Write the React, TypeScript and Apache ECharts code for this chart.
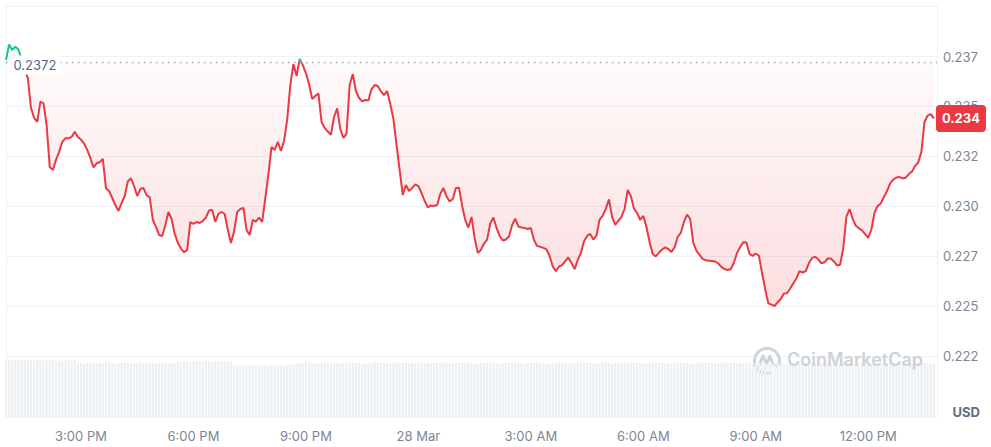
import React, { useEffect, useRef } from 'react';
import * as echarts from 'echarts';

// ---- Data ----
const DAY_ONE = '27 Mar';
const DAY_TWO = '28 Mar';
const START_HOUR = 13;
const STEP_MINUTES = 5;
const SLOT_COUNT = 299;

const TICK_LABELS = ['3:00 PM', '6:00 PM', '9:00 PM', '28 Mar', '3:00 AM', '6:00 AM', '9:00 AM', '12:00 PM'];
const TICK_FIRST_INDEX = 24;
const TICK_EVERY = 36;

const OPEN_PRICE = 0.2372;

const PRICE = [
  0.23733, 0.23810, 0.23783, 0.23799, 0.23785, 0.23733, 0.23682, 0.23642, 0.23492, 0.23442,
  0.23422, 0.23524, 0.23515, 0.23407, 0.23196, 0.23181, 0.23232, 0.23272, 0.23322, 0.23340,
  0.23340, 0.23347, 0.23373, 0.23347, 0.23334, 0.23314, 0.23282, 0.23242, 0.23194, 0.23215,
  0.23220, 0.23237, 0.23089, 0.23076, 0.23041, 0.23006, 0.22976, 0.23015, 0.23051, 0.23124,
  0.23140, 0.23101, 0.23051, 0.23086, 0.23091, 0.23054, 0.23046, 0.22931, 0.22896, 0.22856,
  0.22851, 0.22906, 0.22971, 0.22936, 0.22861, 0.22817, 0.22788, 0.22769, 0.22781, 0.22921,
  0.22911, 0.22921, 0.22916, 0.22926, 0.22943, 0.22979, 0.22981, 0.22921, 0.22961, 0.22971,
  0.22961, 0.22881, 0.22816, 0.22873, 0.22971, 0.22986, 0.22991, 0.22881, 0.22856, 0.22931,
  0.22923, 0.22943, 0.22921, 0.23041, 0.23161, 0.23297, 0.23282, 0.23322, 0.23277, 0.23327,
  0.23432, 0.23607, 0.23712, 0.23652, 0.23738, 0.23707, 0.23667, 0.23612, 0.23537, 0.23552,
  0.23565, 0.23422, 0.23392, 0.23374, 0.23357, 0.23447, 0.23490, 0.23387, 0.23342, 0.23364,
  0.23607, 0.23662, 0.23577, 0.23542, 0.23525, 0.23532, 0.23530, 0.23587, 0.23607, 0.23602,
  0.23575, 0.23557, 0.23577, 0.23512, 0.23437, 0.23307, 0.23181, 0.23056, 0.23106, 0.23076,
  0.23090, 0.23109, 0.23101, 0.23066, 0.23026, 0.22994, 0.23004, 0.23001, 0.23006, 0.23061,
  0.23091, 0.23049, 0.23024, 0.23036, 0.23091, 0.23093, 0.23001, 0.22931, 0.22893, 0.22946,
  0.22841, 0.22766, 0.22781, 0.22813, 0.22833, 0.22913, 0.22943, 0.22891, 0.22851, 0.22828,
  0.22833, 0.22848, 0.22906, 0.22938, 0.22898, 0.22893, 0.22891, 0.22886, 0.22891, 0.22831,
  0.22801, 0.22796, 0.22791, 0.22784, 0.22751, 0.22698, 0.22675, 0.22698, 0.22705, 0.22725,
  0.22743, 0.22715, 0.22685, 0.22730, 0.22766, 0.22823, 0.22851, 0.22861, 0.22833, 0.22853,
  0.22933, 0.22953, 0.22988, 0.23034, 0.22946, 0.22906, 0.22926, 0.22946, 0.22986, 0.23081,
  0.23051, 0.22988, 0.22966, 0.22931, 0.22951, 0.22896, 0.22821, 0.22761, 0.22748, 0.22768,
  0.22783, 0.22794, 0.22785, 0.22771, 0.22793, 0.22846, 0.22866, 0.22921, 0.22958, 0.22936,
  0.22816, 0.22776, 0.22756, 0.22736, 0.22729, 0.22727, 0.22725, 0.22723, 0.22713, 0.22695,
  0.22685, 0.22680, 0.22685, 0.22718, 0.22766, 0.22796, 0.22819, 0.22818, 0.22761, 0.22751,
  0.22763, 0.22752, 0.22665, 0.22585, 0.22513, 0.22507, 0.22500, 0.22519, 0.22535, 0.22563,
  0.22564, 0.22588, 0.22614, 0.22638, 0.22675, 0.22668, 0.22675, 0.22715, 0.22741, 0.22746,
  0.22734, 0.22714, 0.22719, 0.22738, 0.22738, 0.22723, 0.22703, 0.22707, 0.22791, 0.22946,
  0.22986, 0.22938, 0.22902, 0.22889, 0.22879, 0.22860, 0.22842, 0.22883, 0.22968, 0.23001,
  0.23014, 0.23046, 0.23076, 0.23114, 0.23133, 0.23144, 0.23146, 0.23139, 0.23143, 0.23161,
  0.23174, 0.23201, 0.23220, 0.23272, 0.23422, 0.23454, 0.23461, 0.23440,
];

const VOLUME = [
  58, 58, 57, 58, 58, 57, 58, 58, 58, 57, 58, 58, 57, 58, 58, 58, 57, 58, 57, 58, 58, 57, 58,
  55, 55, 54, 55, 55, 55, 54, 55, 55, 56, 55, 55, 54, 55, 55, 55, 55, 54, 55, 55, 56, 55, 55, 55, 54, 55, 55, 55, 55, 54, 55, 55,
  57, 56, 57, 57, 56, 57, 58, 57, 56, 57, 57, 56, 57, 56, 57, 57, 56, 56,
  53, 52, 53, 52, 52, 53, 52, 53, 52, 52, 53, 52, 53, 52, 53, 52, 52, 53, 53, 54, 54,
  55, 55, 56, 55, 55, 54, 55, 55, 55, 56, 55, 55,
  55, 54, 55, 55, 56, 55, 55, 55, 54, 55, 55, 55,
  56, 55, 55, 55, 55, 54, 55, 56, 55, 55, 55, 54,
  55, 55, 55, 56, 55, 55, 54, 55, 55, 55, 56, 55,
  55, 54, 55, 55, 55, 55, 56, 55, 55, 54, 55, 55,
  55, 55, 56, 55, 54, 55, 55, 55, 55, 56, 55, 55,
  54, 55, 55, 55, 56, 55, 55, 55, 54, 55, 55, 56,
  55, 55, 54, 55, 55, 56, 55, 55, 55, 55, 54, 55,
  55, 56, 55, 55, 54, 55, 55, 55, 56, 55, 55, 55,
  55, 55, 55, 54, 55, 56, 55, 55, 55, 54, 55, 55,
  56, 55, 55, 55, 55, 54, 55, 55, 56, 55, 55, 55,
  55, 54, 55, 56, 55, 55, 55, 55, 54, 55, 55, 56,
  55, 55, 55, 55, 56, 55, 54, 55, 55, 55, 55, 55,
  54, 55, 56, 55, 55, 55, 55, 54, 55, 55, 56, 55,
  55, 55, 54, 55, 55, 55, 56, 55, 55, 54, 55, 55,
  56, 55, 55, 55, 54, 55, 55, 55, 55, 56, 55, 55,
  55, 54, 55, 55, 55, 56, 55, 55, 55, 55, 54, 55,
];

// time slots (5-minute steps from 13:00 on 27 Mar)
const CATEGORIES: string[] = [];
for (let i = 0; i < SLOT_COUNT; i++) {
  const total = START_HOUR * 60 + i * STEP_MINUTES;
  const day = total >= 24 * 60 ? DAY_TWO : DAY_ONE;
  const hh = Math.floor(total / 60) % 24;
  const mm = total % 60;
  CATEGORIES.push(`${day} ${String(hh).padStart(2, '0')}:${String(mm).padStart(2, '0')}`);
}

const FONT = 'Inter, "Noto Sans", sans-serif';
const AXIS_TEXT = '#7d8595';
const GRID_LINE = '#eff2f5';
const RED = '#ea3943';
const GREEN = '#16c784';
const WATERMARK = '#cfd3da';

const truncate3 = (v: number) => (Math.floor(v * 1000 + 1e-6) / 1000).toFixed(3);

export default function App() {
  const ref = useRef<HTMLDivElement>(null);

  useEffect(() => {
    if (!ref.current) return;
    const chart = echarts.init(ref.current, null, { renderer: 'svg' });
    const last = PRICE[PRICE.length - 1];

    chart.setOption({
      animation: false,
      textStyle: { fontFamily: FONT },
      grid: [
        { left: 6, right: 54, top: 6.6, bottom: 41.2 },
        { left: 6, right: 54, top: 358, bottom: 29 },
      ],
      xAxis: [
        { type: 'category', gridIndex: 0, data: CATEGORIES, boundaryGap: false, show: false },
        {
          type: 'category',
          gridIndex: 1,
          data: CATEGORIES,
          boundaryGap: false,
          axisLine: { show: false },
          axisTick: { show: false },
          splitLine: { show: false },
          axisLabel: {
            interval: (i: number) => i >= TICK_FIRST_INDEX && (i - TICK_FIRST_INDEX) % TICK_EVERY === 0,
            formatter: (_v: string, i: number) => TICK_LABELS[(i - TICK_FIRST_INDEX) / TICK_EVERY] ?? '',
            color: AXIS_TEXT,
            fontSize: 13,
            margin: 11,
            fontFamily: FONT,
          },
        },
      ],
      yAxis: [
        {
          type: 'value',
          gridIndex: 0,
          position: 'right',
          min: 0.22,
          max: 0.24,
          interval: 0.0025,
          axisLine: { show: true, lineStyle: { color: GRID_LINE } },
          axisTick: { show: false },
          axisLabel: {
            margin: 6,
            fontSize: 13,
            color: AXIS_TEXT,
            fontFamily: FONT,
            showMinLabel: false,
            showMaxLabel: false,
            formatter: (v: number) => truncate3(v),
          },
          splitLine: {
            show: true,
            lineStyle: {
              color: ['rgba(0,0,0,0)', GRID_LINE, GRID_LINE, GRID_LINE, GRID_LINE, GRID_LINE, GRID_LINE, GRID_LINE, GRID_LINE],
            },
          },
        },
        {
          type: 'value',
          gridIndex: 0,
          position: 'left',
          min: 0,
          max: 1,
          axisLine: { show: true, lineStyle: { color: GRID_LINE } },
          axisTick: { show: false },
          axisLabel: { show: false },
          splitLine: { show: false },
        },
        {
          type: 'value',
          gridIndex: 1,
          position: 'right',
          min: 0,
          max: 60,
          axisLine: { show: true, lineStyle: { color: GRID_LINE } },
          axisTick: { show: false },
          axisLabel: { show: false },
          splitLine: { show: false },
        },
      ],
      visualMap: {
        show: false,
        type: 'piecewise',
        seriesIndex: 0,
        dimension: 1,
        pieces: [
          { gt: 0, lte: OPEN_PRICE, color: RED },
          { gt: OPEN_PRICE, lte: 1, color: GREEN },
        ],
        outOfRange: { color: RED },
      },
      series: [
        {
          type: 'line',
          xAxisIndex: 0,
          yAxisIndex: 0,
          data: PRICE,
          symbol: 'none',
          silent: true,
          z: 3,
          lineStyle: { width: 2 },
          areaStyle: {
            origin: OPEN_PRICE,
            color: new echarts.graphic.LinearGradient(0, 0, 0, 1, [
              { offset: 0, color: 'rgba(234,57,67,0.02)' },
              { offset: 1, color: 'rgba(234,57,67,0.24)' },
            ]),
          },
          endLabel: {
            show: true,
            distance: 2,
            formatter: () => truncate3(last),
            color: '#ffffff',
            fontWeight: 'bold',
            fontSize: 13,
            fontFamily: FONT,
            backgroundColor: RED,
            borderRadius: 4,
            padding: [7, 6],
          },
        },
        {
          type: 'bar',
          xAxisIndex: 1,
          yAxisIndex: 2,
          data: VOLUME,
          barWidth: '70%',
          silent: true,
          itemStyle: { color: '#edf0f3' },
        },
      ],
    });

    // open-price reference line, positioned through the chart's own scales
    const pStart = chart.convertToPixel({ gridIndex: 0 }, [0, OPEN_PRICE]) as number[];
    const pEnd = chart.convertToPixel({ gridIndex: 0 }, [CATEGORIES.length - 1, OPEN_PRICE]) as number[];

    chart.setOption({
      graphic: [
        {
          type: 'line',
          z: 5,
          silent: true,
          shape: { x1: pStart[0], y1: pStart[1], x2: pEnd[0], y2: pEnd[1] },
          style: { stroke: '#a3aab6', lineWidth: 1.5, lineDash: [1.5, 4.5] },
        },
        {
          type: 'text',
          z: 10,
          silent: true,
          x: pStart[0] + 3.5,
          y: pStart[1] + 2.5,
          style: {
            text: String(OPEN_PRICE),
            fill: '#58667e',
            fontSize: 13,
            fontFamily: FONT,
            verticalAlign: 'middle',
            backgroundColor: '#ffffff',
            padding: [3, 4],
          },
        },
        {
          type: 'text',
          right: 11,
          top: 405,
          style: { text: 'USD', fill: '#616e85', fontSize: 13, fontWeight: 'bold', fontFamily: FONT },
        },
        {
          type: 'group',
          left: 752,
          top: 346,
          z: 10,
          silent: true,
          children: [
            {
              type: 'arc',
              shape: { cx: 14, cy: 14, r: 12.5, startAngle: 1.22, endAngle: 6.63, clockwise: true },
              style: { stroke: WATERMARK, lineWidth: 3, fill: 'none' },
            },
            {
              type: 'polyline',
              shape: { points: [[6, 18], [10, 9], [13.5, 17], [17, 9], [20, 17], [24, 19]] },
              style: { stroke: WATERMARK, lineWidth: 3, fill: 'none', lineJoin: 'round', lineCap: 'round' },
            },
          ],
        },
        {
          type: 'text',
          left: 787,
          top: 350,
          z: 10,
          silent: true,
          style: { text: 'CoinMarketCap', fill: '#cdd2d9', fontSize: 18, fontWeight: 600, fontFamily: FONT },
        },
      ],
    });

    return () => chart.dispose();
  }, []);

  return (
    <div
      ref={ref}
      style={{ position: 'fixed', left: 0, top: 0, width: 991, height: 447, background: '#ffffff' }}
    />
  );
}
